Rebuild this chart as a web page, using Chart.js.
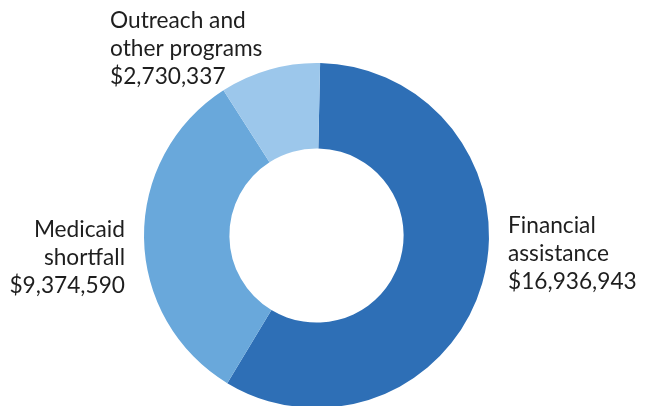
<!DOCTYPE html>
<html><head><meta charset="utf-8">
<script src="https://cdn.jsdelivr.net/npm/chart.js@4/dist/chart.umd.min.js"></script>
<style>html,body{margin:0;padding:0;background:#fff;overflow:hidden;width:649px;height:406px}
#wrap{position:absolute;left:0;top:0;width:649px;height:471px}</style>
</head><body><div id="wrap"><canvas id="c" width="649" height="471"></canvas></div>
<script>
const categories = ["Financial assistance", "Medicaid shortfall", "Outreach and other programs"];
const values = [16936943, 9374590, 2730337];
const labelLines = [["Financial", "assistance"], ["Medicaid", "shortfall"], ["Outreach and", "other programs"]];
const colors = ["#2e6fb6", "#69a8db", "#9cc7eb"];

function fmt(v){ return "$" + v.toLocaleString("en-US"); }

const labelPlugin = {
  id: "sideLabels",
  afterDraw(chart){
    const ctx = chart.ctx;
    const pos = [
      {x: 508, y: 233, align: "left"},
      {x: 125, y: 237, align: "right"},
      {x: 110, y: 28, align: "left"}
    ];
    ctx.save();
    ctx.font = "22.7px Lato";
    ctx.fillStyle = "#1e1e1e";
    ctx.textBaseline = "alphabetic";
    categories.forEach((c, i) => {
      const p = pos[i];
      ctx.textAlign = p.align;
      const lines = labelLines[i].concat([fmt(values[i])]);
      lines.forEach((t, j) => ctx.fillText(t, p.x, p.y + j * 28));
    });
    ctx.restore();
  }
};

new Chart(document.getElementById("c"), {
  type: "doughnut",
  data: { labels: categories, datasets: [{ data: values, backgroundColor: colors, borderWidth: 0 }] },
  options: {
    responsive: false,
    animation: false,
    cutout: "50.5%",
    rotation: 1.2,
    layout: { padding: { left: 144, right: 160, top: 63, bottom: 63 } },
    plugins: { legend: { display: false }, tooltip: { enabled: false } }
  },
  plugins: [labelPlugin]
});
</script></body></html>
